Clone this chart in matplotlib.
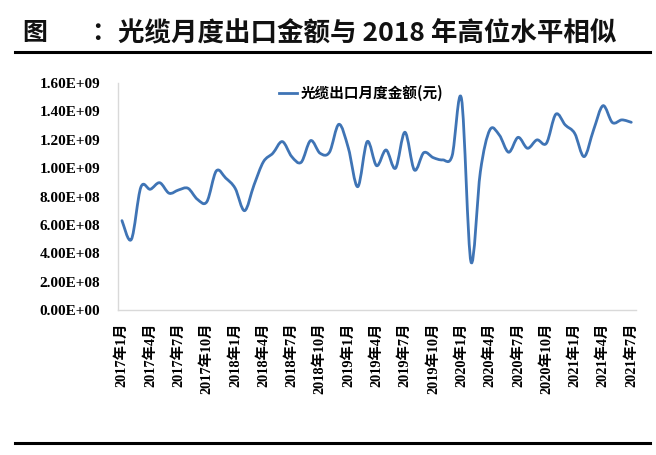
import numpy as np
import matplotlib
matplotlib.use("Agg")
import matplotlib.pyplot as plt
from matplotlib.path import Path
from matplotlib.patches import PathPatch
from matplotlib.lines import Line2D

# ---- data ----
months = [f"{y}年{m}月" for y in range(2017, 2022) for m in range(1, 13)][:55]
values = [630e6, 498e6, 865e6, 851e6, 897e6, 823e6, 846e6, 858e6, 780e6, 763e6,
          980e6, 930e6, 858e6, 700e6, 881e6, 1045e6, 1105e6, 1187e6, 1081e6, 1041e6,
          1194e6, 1105e6, 1112e6, 1309e6, 1142e6, 869e6, 1187e6, 1017e6, 1128e6, 999e6,
          1253e6, 987e6, 1109e6, 1074e6, 1058e6, 1086e6, 1488e6, 340e6, 975e6, 1269e6,
          1234e6, 1112e6, 1217e6, 1140e6, 1199e6, 1175e6, 1380e6, 1304e6, 1245e6, 1081e6,
          1269e6, 1440e6, 1321e6, 1340e6, 1323e6]
tick_idx = list(range(0, 55, 3))
tick_labels = [months[i] for i in tick_idx]
yticks = [0, 2e8, 4e8, 6e8, 8e8, 10e8, 12e8, 14e8, 16e8]
ytick_labels = ["0.00E+00", "2.00E+08", "4.00E+08", "6.00E+08", "8.00E+08",
                "1.00E+09", "1.20E+09", "1.40E+09", "1.60E+09"]
legend_label = "光缆出口月度金额(元)"
title_head = "图"
title_colon = "："
title_body = "光缆月度出口金额与 2018 年高位水平相似"

W, H = 656, 455
fig = plt.figure(figsize=(W / 100, H / 100), dpi=100)
serif = ["Liberation Serif", "Noto Sans CJK SC"]
cjk = ["Noto Sans CJK SC", "DejaVu Sans"]

ax = fig.add_axes([118 / W, 1 - 310 / H, (636 - 118) / W, (310 - 83) / H])
color = "#3f74b5"

# smoothed line (Excel-like) drawn as cubic Bezier path in data coords
x = np.arange(len(values), dtype=float)
y = np.array(values, dtype=float)
verts = [(x[0], y[0])]
codes = [Path.MOVETO]
t = 1 / 6
for i in range(len(x) - 1):
    p0 = (x[i - 1], y[i - 1]) if i > 0 else (x[i], y[i])
    p1 = (x[i], y[i])
    p2 = (x[i + 1], y[i + 1])
    p3 = (x[i + 2], y[i + 2]) if i + 2 < len(x) else (x[i + 1], y[i + 1])
    c1 = (p1[0] + (p2[0] - p0[0]) * t, p1[1] + (p2[1] - p0[1]) * t)
    c2 = (p2[0] - (p3[0] - p1[0]) * t, p2[1] - (p3[1] - p1[1]) * t)
    verts += [c1, c2, p2]
    codes += [Path.CURVE4] * 3
patch = PathPatch(Path(verts, codes), facecolor="none", edgecolor=color,
                  lw=2.0, capstyle="round", joinstyle="round")
ax.add_patch(patch)

ax.set_xlim(-0.42, 54.5)
ax.set_ylim(0, 1.6e9)
ax.set_yticks(yticks)
ax.set_yticklabels(ytick_labels, family=serif, fontweight="bold", fontsize=11)
ax.set_xticks(tick_idx)
ax.set_xticklabels(tick_labels, rotation=90, family=serif, fontweight="bold",
                   fontsize=10.3, va="top", ha="center")
ax.tick_params(axis="both", length=0)
ax.tick_params(axis="y", pad=13)
ax.tick_params(axis="x", pad=9)
for s in ["top", "right"]:
    ax.spines[s].set_visible(False)
for s in ["left", "bottom"]:
    ax.spines[s].set_color("#d9d9d9")
    ax.spines[s].set_linewidth(1.0)

handle = Line2D([0], [0], color=color, lw=2.0)
leg = ax.legend([handle], [legend_label], loc="upper left",
                bbox_to_anchor=((266 - 118) / (636 - 118), 1.05), frameon=False,
                handlelength=1.2, handletextpad=0.3,
                prop={"family": cjk, "size": 10.5, "weight": "bold"})

# title and rules
fig.text(22 / W, 1 - 33 / H, title_head, family=cjk, fontweight="bold", fontsize=18,
         va="center", ha="left", color="#111111")
fig.text(91 / W, 1 - 33 / H, title_colon, family=cjk, fontweight="bold", fontsize=18,
         va="center", ha="left", color="#111111")
fig.text(118 / W, 1 - 33 / H, title_body, family=cjk, fontweight="bold", fontsize=19.1,
         va="center", ha="left", color="#111111")
fig.add_artist(Line2D([15 / W, 650 / W], [1 - 52 / H, 1 - 52 / H], color="black", lw=2.2))
fig.add_artist(Line2D([15 / W, 650 / W], [1 - 443 / H, 1 - 443 / H], color="black", lw=2.2))

fig.savefig("out.png", dpi=100)
